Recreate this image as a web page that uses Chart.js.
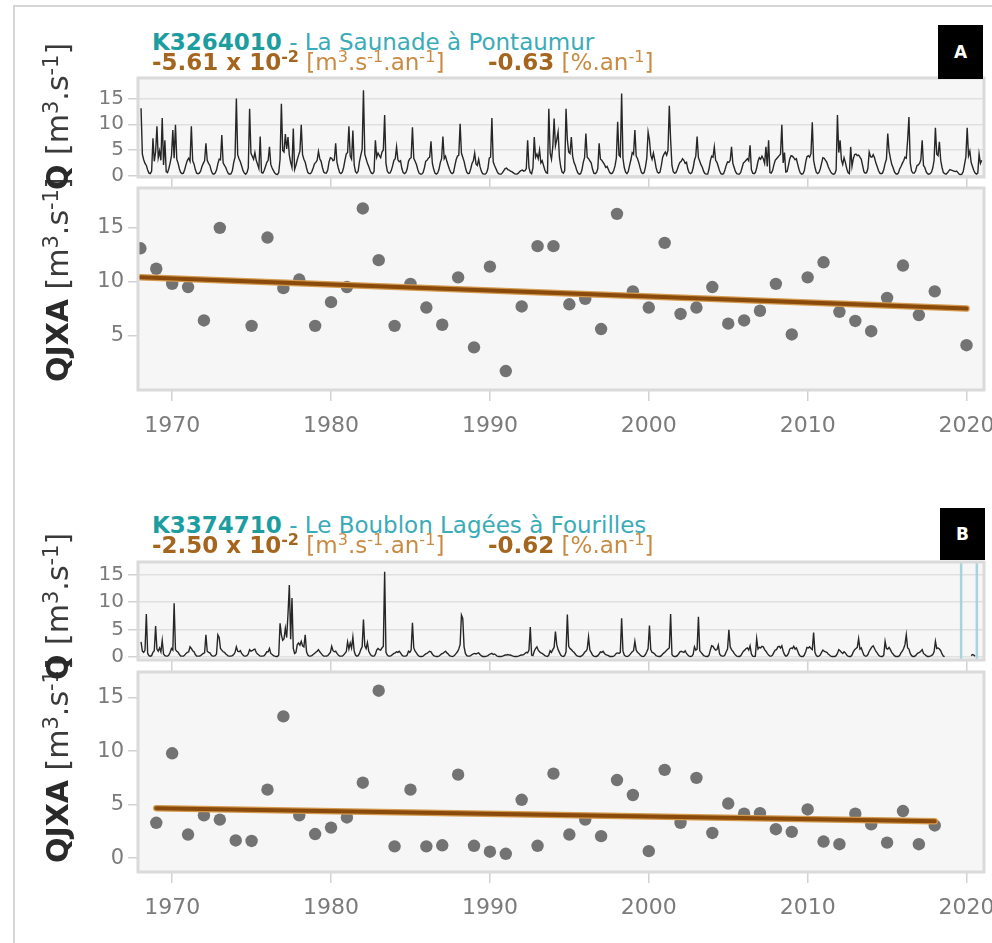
<!DOCTYPE html>
<html><head><meta charset="utf-8">
<script src="https://cdn.jsdelivr.net/npm/chart.js@4.4.0/dist/chart.umd.min.js"></script>
<style>
html,body{margin:0;padding:0;background:#fff;}
body{width:992px;height:943px;position:relative;overflow:hidden;font-family:"DejaVu Sans",Verdana,sans-serif;}
.frame{position:absolute;left:13px;top:5px;width:1100px;height:1100px;border-left:2px solid #d6d6d6;border-top:2px solid #d6d6d6;}
canvas{position:absolute;left:0;}
.tl{position:absolute;font-size:23px;line-height:22px;white-space:nowrap;}
.c1{color:#3aabb8;} .c1 b{color:#1d9d9f;}
.c2{color:#c98a42;} .c2 b{color:#a4661e;}
.sp{position:relative;top:-0.5em;font-size:70%;}
.box{position:absolute;background:#000;color:#fff;font-weight:bold;font-size:17px;display:flex;align-items:center;justify-content:center;}
.yt{position:absolute;font-size:30px;line-height:30px;white-space:nowrap;color:#3a3a3a;transform-origin:0 0;transform:rotate(-90deg);}
.yt b{color:#2a2a2a;}
</style></head>
<body>
<div class="frame"></div>
<canvas id="flowA" width="992" height="123" style="top:66px"></canvas>
<canvas id="scatA" width="992" height="270" style="top:180px"></canvas>
<canvas id="flowB" width="992" height="122" style="top:550px"></canvas>
<canvas id="scatB" width="992" height="268" style="top:664px"></canvas>

<div class="tl c1" style="left:152px;top:31px"><b>K3264010</b> - La Saunade à Pontaumur</div>
<div class="tl c2" style="left:152px;top:51px"><b>-5.61 x 10<span class="sp">-2</span></b> [m<span class="sp">3</span>.s<span class="sp">-1</span>.an<span class="sp">-1</span>]</div>
<div class="tl c2" style="left:488px;top:51px"><b>-0.63</b> [%.an<span class="sp">-1</span>]</div>
<div class="box" style="left:938px;top:25px;width:45px;height:54px">A</div>

<div class="tl c1" style="left:152px;top:514px"><b>K3374710</b> - Le Boublon Lagées à Fourilles</div>
<div class="tl c2" style="left:152px;top:534px"><b>-2.50 x 10<span class="sp">-2</span></b> [m<span class="sp">3</span>.s<span class="sp">-1</span>.an<span class="sp">-1</span>]</div>
<div class="tl c2" style="left:488px;top:534px"><b>-0.62</b> [%.an<span class="sp">-1</span>]</div>
<div class="box" style="left:940px;top:508px;width:45px;height:52px">B</div>

<div class="yt" style="left:43px;top:382px"><b>QJXA</b> [m<span class="sp">3</span>.s<span class="sp">-1</span>]</div>
<div class="yt" style="left:43px;top:190px"><b>Q</b> [m<span class="sp">3</span>.s<span class="sp">-1</span>]</div>
<div class="yt" style="left:43px;top:863px"><b>QJXA</b> [m<span class="sp">3</span>.s<span class="sp">-1</span>]</div>
<div class="yt" style="left:43px;top:680px"><b>Q</b> [m<span class="sp">3</span>.s<span class="sp">-1</span>]</div>

<script>
// ---------- DATA ----------
const yearTicks = [1970, 1980, 1990, 2000, 2010, 2020];
const flowTicks = [0, 5, 10, 15];
const qjxaTicksA = [5, 10, 15];
const qjxaTicksB = [0, 5, 10, 15];

// Annual maximum daily flow (QJXA), station A
const yearsA = [1968,1969,1970,1971,1972,1973,1974,1975,1976,1977,1978,1979,1980,1981,1982,1983,1984,1985,1986,1987,1988,1989,1990,1991,1992,1993,1994,1995,1996,1997,1998,1999,2000,2001,2002,2003,2004,2005,2006,2007,2008,2009,2010,2011,2012,2013,2014,2015,2016,2017,2018,2019,2020];
const qjxaA = [13.1,11.2,9.8,9.5,6.4,15.0,null,5.9,14.1,9.4,10.2,5.9,8.1,9.5,16.8,12.0,5.9,9.8,7.6,6.0,10.4,3.9,11.4,1.7,7.7,13.3,13.3,7.9,8.4,5.6,16.3,9.1,7.6,13.6,7.0,7.6,9.5,6.1,6.4,7.3,9.8,5.1,10.4,11.8,7.2,6.35,5.4,8.5,11.5,6.9,9.1,null,4.1];
const trendYearsA = [1968, 2020];
const trendA = [10.42, 7.50];

// Annual maximum daily flow (QJXA), station B
const yearsB = [1969,1970,1971,1972,1973,1974,1975,1976,1977,1978,1979,1980,1981,1982,1983,1984,1985,1986,1987,1988,1989,1990,1991,1992,1993,1994,1995,1996,1997,1998,1999,2000,2001,2002,2003,2004,2005,2006,2007,2008,2009,2010,2011,2012,2013,2014,2015,2016,2017,2018];
const qjxaB = [3.3,9.8,2.2,4.0,3.6,1.65,1.6,6.4,13.25,4.0,2.25,2.85,3.8,7.05,15.65,1.1,6.4,1.1,1.2,7.8,1.15,0.6,0.4,5.45,1.15,7.9,2.2,3.6,2.05,7.3,5.9,0.65,8.25,3.3,7.5,2.35,5.1,4.15,4.2,2.7,2.45,4.55,1.55,1.3,4.15,3.15,1.45,4.4,1.3,3.05];
const trendYearsB = [1969, 2018];
const trendB = [4.67, 3.44];

// Flow series (monthly readings, Jan..Dec), station A, from 1968
const flowStartA = 1968;
const flowA = [
13.1,4.2,3.1,2.4,2.0,1.1,0.5,0.4,0.9,7.3,2.8,4.6,
9.6,3.5,4.8,3.0,11.2,2.1,6.9,0.8,0.6,1.4,2.5,3.9,
8.9,3.4,9.9,3.2,2.4,1.3,0.6,0.4,0.5,1.2,2.2,3.0,
3.4,2.8,9.6,2.9,2.3,1.2,0.5,0.4,0.5,0.9,1.8,2.4,
2.9,6.3,3.0,2.4,2.0,1.0,0.4,0.3,0.5,1.1,2.3,3.2,
3.1,7.9,2.5,2.0,1.6,0.9,0.4,0.3,0.4,1.0,2.6,3.6,
15.0,4.1,3.3,2.7,1.9,1.0,0.5,0.3,0.6,1.5,13.0,4.4,
3.8,3.2,4.5,3.0,2.2,1.4,7.6,0.6,0.5,1.0,1.8,2.6,
3.0,5.6,2.2,1.5,1.0,0.5,0.3,0.2,0.6,3.2,14.0,4.9,
4.6,8.1,5.2,7.5,4.0,2.6,1.6,9.2,1.2,2.0,3.1,4.0,
4.8,9.9,4.1,3.2,2.6,1.5,0.6,0.4,0.4,0.8,1.5,2.3,
2.6,3.0,4.7,3.3,2.8,1.6,0.7,0.5,0.5,1.1,2.7,3.5,
3.4,2.9,3.1,6.3,2.6,1.5,0.6,0.4,0.7,1.6,3.0,4.2,
4.5,9.6,3.8,3.2,8.8,2.1,0.8,0.5,0.9,2.8,4.0,5.1,
16.6,4.2,3.3,2.4,1.8,1.0,0.5,0.4,0.8,6.9,3.6,4.4,
3.9,3.5,4.6,5.0,11.8,2.4,0.9,0.5,0.5,1.0,1.9,3.0,
3.3,5.6,3.1,2.7,2.9,1.4,0.6,0.4,0.6,1.3,2.8,3.3,
3.5,9.4,3.4,2.8,2.2,1.2,0.5,0.3,0.3,0.6,1.5,2.8,
3.0,3.4,3.6,6.7,2.5,1.3,0.5,0.3,0.5,1.2,2.5,3.3,
7.6,3.3,3.8,2.8,2.0,1.2,0.6,0.4,0.6,1.9,3.1,3.8,
4.0,10.1,4.4,3.6,2.8,1.6,0.7,0.4,0.5,1.3,2.4,2.9,
4.4,2.3,2.0,3.2,1.8,0.9,0.4,0.3,0.3,0.6,1.4,3.4,
3.6,11.2,2.7,2.0,1.4,0.8,0.4,0.3,0.3,0.6,1.0,1.4,
1.5,1.2,1.1,0.9,0.8,0.6,0.4,0.3,0.3,0.5,0.8,1.0,
1.1,0.9,1.0,1.4,6.9,1.6,0.6,0.4,1.5,7.5,3.6,4.2,
3.3,5.0,2.5,2.9,2.0,1.1,0.6,0.5,13.0,4.4,3.2,5.6,
11.1,5.8,7.0,8.5,3.6,1.7,0.7,0.5,1.0,13.0,7.0,4.6,
4.3,7.5,3.8,2.6,2.0,1.1,0.5,0.3,0.4,1.1,2.6,3.5,
8.2,3.6,3.3,2.9,2.5,1.3,0.5,0.4,0.6,1.4,6.3,3.2,
3.0,2.6,2.2,1.6,1.8,1.2,0.6,0.4,0.5,1.0,1.9,3.4,
10.5,4.0,3.7,16.0,3.4,1.6,0.7,0.4,0.8,2.0,3.1,4.5,
4.2,8.9,3.8,3.3,2.5,1.5,0.6,0.4,0.6,1.7,3.4,8.5,
7.0,4.0,3.2,4.4,3.1,1.6,0.7,0.5,0.7,2.0,3.6,4.2,
4.6,4.0,4.9,13.6,7.0,2.0,0.8,0.5,0.6,1.2,2.0,2.6,
2.8,3.3,3.0,2.4,2.6,1.3,0.6,0.4,0.6,1.5,3.0,3.8,
7.6,3.5,2.8,2.1,1.6,0.8,0.4,0.3,0.3,1.3,2.9,3.8,
3.6,5.6,3.0,2.6,1.8,0.9,0.4,0.3,0.4,1.1,2.0,2.7,
2.6,3.0,5.6,2.4,1.6,0.8,0.4,0.3,0.3,0.7,1.6,2.5,
2.7,3.0,3.3,2.9,5.9,1.2,0.5,0.4,0.6,1.5,2.8,3.5,
3.2,3.8,3.3,2.4,5.6,1.8,6.9,0.6,0.5,1.0,2.1,3.0,
3.3,3.6,3.9,4.2,9.9,2.5,4.5,0.7,0.8,2.0,3.3,3.9,
3.8,3.5,3.1,3.3,2.2,1.2,0.5,0.3,0.4,1.0,2.6,3.7,
3.9,3.6,4.3,10.4,3.0,1.7,0.7,0.4,0.6,1.3,2.4,3.5,
3.4,3.0,2.6,1.8,1.2,0.7,0.4,0.3,0.4,1.1,11.8,4.5,
6.9,3.1,2.2,3.5,2.6,1.4,0.6,0.4,5.6,1.8,3.3,4.1,
4.2,3.9,4.0,3.6,3.2,2.0,0.8,0.5,0.6,1.4,4.6,3.7,
3.6,4.1,3.5,2.5,1.8,1.0,0.5,0.4,0.5,1.2,2.4,3.2,
8.2,4.8,3.4,2.2,1.6,0.8,0.4,0.3,0.5,1.3,1.8,2.4,
2.9,3.6,3.4,6.9,11.4,2.5,0.9,0.5,0.5,0.9,1.9,2.1,
2.4,3.1,6.9,2.0,1.6,0.8,0.4,0.3,0.4,0.7,1.5,3.0,
9.3,4.2,3.9,6.6,3.0,1.6,0.6,0.4,0.3,0.5,0.9,1.2,
1.1,1.0,0.9,0.8,0.9,0.6,0.3,0.2,0.3,0.8,2.2,3.6,
9.3,3.9,4.8,2.6,1.8,1.0,0.5,0.3,0.5,4.2,2.4,3.0
];

// Flow series (monthly readings, Jan..Dec), station B, from 1968
const flowStartB = 1968;
const flowB = [
2.7,1.0,0.8,1.2,7.8,0.6,0.2,0.1,0.2,0.8,1.1,5.6,
1.4,1.0,1.6,0.9,3.0,0.5,0.2,0.1,0.1,0.3,0.8,1.5,
1.2,9.75,1.3,1.0,0.8,0.4,0.1,0.1,0.1,0.3,0.6,0.8,
0.9,1.8,1.5,1.1,0.9,0.4,0.1,0.1,0.1,0.2,0.4,0.6,
0.7,4.0,1.0,0.8,0.7,0.3,0.1,0.1,0.2,0.5,4.0,3.5,
1.5,1.2,0.9,0.8,0.5,0.3,0.1,0.1,0.1,0.2,0.4,0.8,
1.8,1.0,0.9,1.1,0.6,0.3,0.1,0.1,0.2,0.5,1.3,1.0,
1.1,1.3,1.4,0.8,0.5,0.3,0.1,0.1,0.1,0.2,0.5,0.9,
0.9,1.5,0.6,0.4,0.2,0.1,0.05,0.05,0.3,6.1,4.0,3.0,
3.3,5.2,3.5,7.8,13.1,3.2,10.7,1.5,0.6,0.8,2.2,2.5,
2.1,2.8,2.0,1.8,4.0,0.9,0.3,0.1,0.1,0.2,0.4,0.6,
0.8,1.0,1.3,0.9,0.6,0.3,0.1,0.1,0.1,0.2,0.5,0.8,
1.9,1.1,0.9,1.0,0.6,0.3,0.1,0.1,0.1,0.3,0.6,0.9,
2.7,1.4,2.5,1.6,3.6,1.0,0.3,0.1,0.2,0.6,1.3,1.8,
6.8,2.0,1.5,2.6,1.0,0.5,0.2,0.1,0.1,0.4,1.2,1.5,
1.3,1.2,1.6,1.9,15.5,0.8,0.3,0.1,0.1,0.2,0.4,0.6,
0.7,0.9,0.8,1.0,0.7,0.3,0.1,0.1,0.1,0.3,1.0,0.8,
1.2,6.2,1.6,1.0,0.7,0.3,0.1,0.05,0.05,0.1,0.3,0.5,
0.6,0.8,1.0,0.9,0.5,0.2,0.1,0.05,0.05,0.1,0.3,0.5,
0.6,0.8,1.0,0.7,0.5,0.2,0.1,0.05,0.1,0.3,0.6,0.9,
1.4,2.2,7.6,7.0,1.8,0.6,0.2,0.1,0.1,0.2,0.4,0.5,
0.6,0.5,0.6,0.7,0.4,0.2,0.05,0.05,0.05,0.1,0.2,0.4,
0.5,0.6,0.4,0.5,0.3,0.1,0.05,0.05,0.05,0.1,0.2,0.3,
0.3,0.4,0.3,0.3,0.2,0.1,0.05,0.05,0.05,0.1,0.2,0.3,
0.3,0.4,0.6,0.8,0.7,1.2,5.4,0.3,0.2,1.0,1.5,1.8,
1.2,0.9,0.7,0.6,0.4,0.2,0.1,0.05,0.3,1.1,0.8,1.3,
1.7,4.6,2.2,1.3,0.8,0.3,0.1,0.05,0.2,0.9,7.7,1.9,
1.5,1.3,1.0,0.8,0.5,0.2,0.1,0.05,0.05,0.2,0.4,0.8,
1.0,1.4,3.6,1.2,0.8,0.3,0.1,0.05,0.05,0.2,0.5,0.9,
0.8,1.0,0.6,0.4,0.3,0.2,0.05,0.05,0.05,0.1,0.3,0.6,
0.7,0.6,0.8,7.0,1.0,0.3,0.1,0.05,0.1,0.3,0.6,0.9,
1.1,2.8,1.2,0.8,0.6,0.3,0.1,0.05,0.1,0.4,0.9,1.5,
5.7,1.3,0.8,0.7,0.5,0.2,0.1,0.05,0.05,0.2,0.5,0.7,
0.9,1.2,1.4,1.6,7.8,0.4,0.1,0.05,0.05,0.2,0.5,0.9,
1.0,0.9,0.8,1.1,0.6,0.3,0.1,0.05,0.1,0.4,1.8,1.2,
1.4,7.3,1.1,0.8,0.5,0.2,0.1,0.05,0.05,0.3,1.2,2.0,
1.9,1.5,1.2,1.3,2.1,0.5,0.2,0.1,0.1,0.3,0.9,1.4,
4.9,1.8,1.3,1.0,0.6,0.3,0.1,0.05,0.05,0.2,0.6,1.0,
1.2,1.5,1.6,1.2,2.0,0.5,0.1,0.05,0.1,3.3,1.4,1.7,
1.6,1.9,1.8,1.3,1.0,0.6,0.3,0.1,0.1,0.3,0.8,1.2,
1.3,1.8,1.9,1.6,2.0,1.0,0.4,0.1,0.2,0.6,1.4,1.6,
1.5,1.9,1.4,1.6,1.0,0.4,0.1,0.05,0.05,0.3,0.9,1.7,
1.6,1.8,1.5,1.3,4.4,0.8,0.2,0.05,0.1,0.3,0.8,1.2,
1.0,0.9,0.8,0.5,0.3,0.1,0.05,0.05,0.05,0.2,0.6,1.3,
1.1,0.8,0.6,0.9,0.7,0.3,0.1,0.05,0.05,0.3,0.9,1.3,
1.5,1.7,3.3,1.4,1.6,0.9,0.3,0.1,0.1,0.4,1.0,1.4,
1.8,2.0,1.5,1.0,0.7,0.3,0.1,0.05,0.05,0.3,2.8,1.5,
1.4,1.7,1.3,0.8,0.5,0.2,0.05,0.05,0.05,0.2,0.7,1.0,
1.5,2.2,4.0,1.6,1.4,0.6,0.2,0.05,0.05,0.2,0.5,0.7,
0.8,1.0,1.3,0.6,0.4,0.2,0.05,0.05,0.1,0.2,0.4,0.9,
2.8,1.5,1.6,1.4,1.1,0.5,0.1,0.05,null,null,null,null,
null,null,null,null,null,null,null,null,null,null,null,null,
null,null,null,0.2,0.4,0.3,0.1,null,null,null,null,null
];
// Missing-data markers on station B flow panel (decimal years)
const gapMarksB = [2019.66, 2020.65];

// ---------- CHARTS ----------
const FONT = '"DejaVu Sans", Verdana, sans-serif';
const X_MIN = 1967.85, X_MAX = 2021.1;

function monthly(start, vals) {
  return vals.map((v, i) => ({ x: start + Math.floor(i / 12) + ((i % 12) + 0.5) / 12, y: v }));
}
function pairs(xs, ys) { return xs.map((x, i) => ({ x: x, y: ys[i] })); }

const framePlugin = {
  id: 'frame',
  beforeDraw(chart) {
    const { ctx, chartArea: a } = chart;
    ctx.save(); ctx.fillStyle = '#f6f6f6';
    ctx.fillRect(a.left, a.top, a.right - a.left, a.bottom - a.top); ctx.restore();
  },
  afterDraw(chart) {
    const { ctx, chartArea: a } = chart;
    ctx.save(); ctx.strokeStyle = '#dadada'; ctx.lineWidth = 3;
    ctx.strokeRect(a.left, a.top, a.right - a.left, a.bottom - a.top); ctx.restore();
  }
};
const gapPlugin = {
  id: 'gaps',
  afterDatasetsDraw(chart, args, opts) {
    if (!opts.marks) return;
    const { ctx, chartArea: a, scales } = chart;
    ctx.save(); ctx.strokeStyle = '#a8d3dc'; ctx.lineWidth = 2.5;
    opts.marks.forEach(m => {
      const px = scales.x.getPixelForValue(m);
      ctx.beginPath(); ctx.moveTo(px, a.top); ctx.lineTo(px, a.bottom); ctx.stroke();
    });
    ctx.restore();
  }
};

function xAxis(showLabels, h) {
  return {
    type: 'linear', min: X_MIN, max: X_MAX,
    afterBuildTicks: ax => { ax.ticks = yearTicks.map(v => ({ value: v })); },
    afterFit: ax => { ax.height = h; ax.paddingLeft = 0; ax.paddingRight = 0; },
    grid: { drawOnChartArea: false, drawTicks: true, tickLength: 11, tickColor: '#d2d2d2', lineWidth: 1.5 },
    border: { display: false },
    ticks: { display: showLabels, color: '#7b7b7b', font: { family: FONT, size: 22 }, padding: 12, maxRotation: 0, autoSkip: false, callback: v => String(v) }
  };
}
function yAxis(min, max, tickVals, grid, size) {
  return {
    type: 'linear', min: min, max: max,
    afterBuildTicks: ax => { ax.ticks = tickVals.map(v => ({ value: v })); },
    afterFit: ax => { ax.width = 138; ax.paddingTop = 0; ax.paddingBottom = 0; },
    grid: { drawOnChartArea: grid, color: '#e0e0e0', lineWidth: 1.5, drawTicks: true, tickLength: 10, tickColor: '#d2d2d2' },
    border: { display: false },
    ticks: { color: '#7b7b7b', font: { family: FONT, size: size }, padding: 4, autoSkip: false, callback: v => String(v) }
  };
}
const baseOpts = (padTop) => ({
  responsive: false, animation: false, events: [],
  layout: { padding: { top: padTop, right: 8, bottom: 0, left: 0 } },
  plugins: { legend: { display: false }, tooltip: { enabled: false } }
});

function flowChart(id, start, vals, ymin, ymax, marks) {
  const o = baseOpts(12);
  o.scales = { x: xAxis(false, 12), y: yAxis(ymin, ymax, flowTicks, true, 20) };
  o.plugins.gaps = { marks: marks };
  new Chart(document.getElementById(id), {
    type: 'line',
    data: { datasets: [{ data: monthly(start, vals), borderColor: '#262626', borderWidth: 1.4, pointRadius: 0, spanGaps: false, tension: 0 }] },
    options: o, plugins: [framePlugin, gapPlugin]
  });
}
function scatChart(id, xs, ys, tx, ty, ymin, ymax, tickVals) {
  const o = baseOpts(8);
  o.scales = { x: xAxis(true, 60), y: yAxis(ymin, ymax, tickVals, false, 21) };
  new Chart(document.getElementById(id), {
    type: 'scatter',
    data: { datasets: [
      { type: 'line', data: pairs(tx, ty), borderColor: '#8a4a0c', borderWidth: 4, pointRadius: 0, borderCapStyle: 'round' },
      { type: 'line', data: pairs(tx, ty), borderColor: '#d49a4e', borderWidth: 6.5, pointRadius: 0, borderCapStyle: 'round' },
      { data: pairs(xs, ys), backgroundColor: '#737373', borderWidth: 0, pointRadius: 6.2 }
    ] },
    options: o, plugins: [framePlugin]
  });
}

flowChart('flowA', flowStartA, flowA, -0.25, 19.0, null);
scatChart('scatA', yearsA, qjxaA, trendYearsA, trendA, -0.06, 18.7, qjxaTicksA);
flowChart('flowB', flowStartB, flowB, -0.6, 17.3, gapMarksB);
scatChart('scatB', yearsB, qjxaB, trendYearsB, trendB, -1.3, 17.4, qjxaTicksB);
</script>
</body></html>
